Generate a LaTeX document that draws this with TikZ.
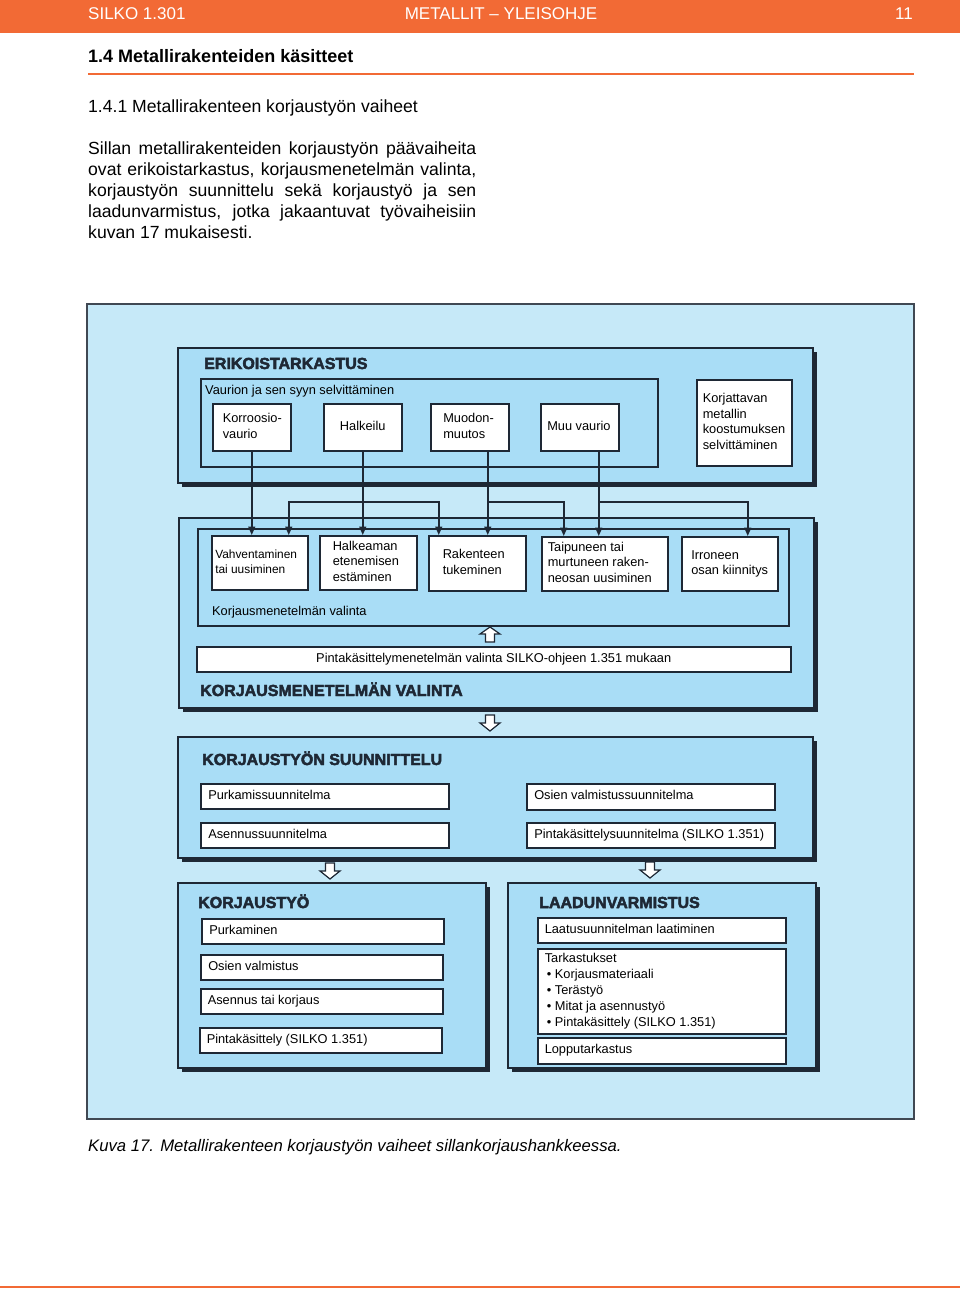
\documentclass[tikz,border=0pt]{standalone}
\usepackage{fontspec}
\setmainfont{Liberation Sans}
\newfontfamily\heavyfont{Liberation Sans}[BoldFeatures={FakeBold=3}]
\usetikzlibrary{arrows.meta,shadows}
\definecolor{orangeC}{HTML}{F26A35}
\definecolor{outerC}{HTML}{C6E9F8}
\definecolor{panelC}{HTML}{A9DDF6}
\definecolor{lineC}{HTML}{1E2835}
\newcommand\fsz[2]{\fontsize{#1pt}{#2pt}\selectfont}
% style, name, x1, y1, x2, y2
\newcommand\placerect[6]{%
  \node[#1, minimum width=\dimexpr#5pt-#3pt\relax, minimum height=\dimexpr#6pt-#4pt\relax,
        inner sep=0pt] (#2) at (#3,#4) {};}
% style, name, x1, y1, x2, y2, left text offset, text (left aligned lines)
\newcommand\placebox[8]{%
  \node[#1, minimum width=\dimexpr#5pt-#3pt\relax, minimum height=\dimexpr#6pt-#4pt\relax,
        inner xsep=0pt] (#2) at (#3,#4)
        {\makebox[\dimexpr#5pt-#3pt\relax][l]{\hspace*{#7pt}\begin{tabular}{@{}l@{}}#8\end{tabular}}};}
% style, name, x1, y1, x2, y2, text (centred)
\newcommand\placeboxc[7]{%
  \node[#1, minimum width=\dimexpr#5pt-#3pt\relax, minimum height=\dimexpr#6pt-#4pt\relax,
        inner xsep=0pt] (#2) at (#3,#4)
        {\makebox[\dimexpr#5pt-#3pt\relax][c]{\begin{tabular}{@{}c@{}}#7\end{tabular}}};}
\newcommand\hollowup[2]{\draw[hollow] (#1,#2) -- ++(10,7) -- ++(-5.5,0) -- ++(0,8) -- ++(-9,0) -- ++(0,-8) -- ++(-5.5,0) -- cycle;}
\newcommand\hollowdown[2]{\draw[hollow] ({#1-4.5},#2) -- ++(9,0) -- ++(0,8) -- ++(5.5,0) -- ++(-10,8) -- ++(-10,-8) -- ++(5.5,0) -- cycle;}
\begin{document}
\begin{tikzpicture}[x=1pt,y=-1pt,
  panel/.style={draw=lineC, fill=panelC, line width=1.5pt, anchor=north west,
     drop shadow={shadow xshift=4pt, shadow yshift=-4pt, opacity=1, fill=lineC}},
  innerframe/.style={draw=lineC, fill=panelC, line width=1.5pt, anchor=north west},
  wbox/.style={draw=lineC, fill=white, line width=1.5pt, inner ysep=0pt, anchor=north west,
     font=\fsz{12.8}{15.6}},
  conn/.style={draw=lineC, line width=1.5pt, -{Triangle[length=8.5pt,width=7pt]}},
  heading/.style={anchor=base west, inner sep=0pt, font=\heavyfont\bfseries\fsz{16}{16}, text=lineC},
  lab/.style={anchor=base west, inner sep=0pt, font=\fsz{12.8}{15.6}},
  hollow/.style={draw=lineC, fill=white, line width=1.2pt, line join=miter},
  paraline/.style={anchor=base west, inner sep=0pt, font=\fsz{17.6}{21}}
]
\useasboundingbox (0,0) rectangle (960,1289);
\fill[white] (0,0) rectangle (960,1289);

% page header
\fill[orangeC] (0,0) rectangle (960,33);
\node[anchor=base west, inner sep=0pt, text=white, font=\fsz{17}{17}] (hl) at (88,19.5) {SILKO 1.301};
\node[anchor=base, inner sep=0pt, text=white, font=\fsz{17}{17}] (hc) at (501,19.5) {METALLIT – YLEISOHJE};
\node[anchor=base east, inner sep=0pt, text=white, font=\fsz{17}{17}] (hr) at (913,19.5) {11};

\node[anchor=base west, inner sep=0pt, font=\bfseries\fsz{18}{18}] (sec) at (88,62.5) {1.4 Metallirakenteiden käsitteet};
\draw[orangeC, line width=2pt] (88,74) -- (914,74);
\node[paraline] (sub) at (88,112.5) {1.4.1 Metallirakenteen korjaustyön vaiheet};

\node[paraline] (p1) at (88,155) {\makebox[388pt][s]{Sillan metallirakenteiden korjaustyön päävaiheita}};
\node[paraline] (p2) at (88,176) {\makebox[388pt][s]{ovat erikoistarkastus, korjausmenetelmän valinta,}};
\node[paraline] (p3) at (88,197) {\makebox[388pt][s]{korjaustyön suunnittelu sekä korjaustyö ja sen}};
\node[paraline] (p4) at (88,218) {\makebox[388pt][s]{laadunvarmistus, jotka jakaantuvat työvaiheisiin}};
\node[paraline] (p5) at (88,239) {kuvan 17 mukaisesti.};

% outer frame
\node[draw=lineC!85, fill=outerC, line width=2pt, inner sep=0pt, anchor=north west,
      minimum width=827pt, minimum height=815pt] (outer) at (86,303) {};

% panels
\placerect{panel}{pA}{177}{347}{812}{482}
\placerect{panel}{pB}{178}{517}{813}{707}
\placerect{panel}{pC}{177}{736}{812}{857}
\placerect{panel}{pD}{177}{882}{485}{1067}
\placerect{panel}{pE}{507}{882}{815}{1067}

% ERIKOISTARKASTUS
\node[heading] (tA) at (204,369) {ERIKOISTARKASTUS};
\placerect{innerframe}{fA}{200}{378}{657}{466}
\node[lab] (lA) at (205,394.5) {Vaurion ja sen syyn selvittäminen};
\placebox{wbox}{korr}{212}{403}{290}{450}{10}{Korroosio-\\vaurio}
\placeboxc{wbox}{halk}{323}{403}{401}{450}{Halkeilu}
\placebox{wbox}{muod}{430}{403}{508}{450}{12.5}{Muodon-\\muutos}
\placebox{wbox}{muu}{540}{403}{618}{450}{6.5}{Muu vaurio}
\placebox{wbox}{korj}{696}{379}{791}{465}{6}{Korjattavan\\metallin\\koostumuksen\\selvittäminen}

% KORJAUSMENETELMÄN VALINTA
\placerect{innerframe}{fB}{197}{528}{788}{625}
\node[lab] (lB) at (212,615.5) {Korjausmenetelmän valinta};
\placebox{wbox, font=\fsz{11.9}{15.6}}{vahv}{211}{535}{307}{589}{3.5}{Vahventaminen\\tai uusiminen}
\placebox{wbox}{halm}{319}{535}{416}{589}{13}{Halkeaman\\etenemisen\\estäminen}
\placebox{wbox}{rak}{428}{535}{525}{590}{14}{Rakenteen\\tukeminen}
\placebox{wbox}{taip}{541}{536}{667}{590}{6}{Taipuneen tai\\murtuneen raken-\\neosan uusiminen}
\placebox{wbox}{irr}{681}{536}{777}{590}{9.5}{Irroneen\\osan kiinnitys}
\placeboxc{wbox}{pint}{196}{646}{790}{671}{Pintakäsittelymenetelmän valinta SILKO-ohjeen 1.351 mukaan}
\hollowup{490}{627}
\node[heading] (tB) at (200,696) {KORJAUSMENETELMÄN VALINTA};

% connectors
\coordinate (by) at (0,502);
\coordinate (mline) at ([xshift=18pt]muod.south);
\coordinate (uline) at ([xshift=19pt]muu.south);
\draw[conn] (korr.south) -- (korr.south |- vahv.north);
\draw[conn] (halk.south) -- (halk.south |- halm.north);
\draw[conn] (halk.south |- by) -| ([xshift=29pt]vahv.north);
\draw[conn] (halk.south |- by) -| ([xshift=-38.5pt]rak.north);
\draw[conn] (mline) -- (mline |- rak.north);
\draw[conn] (mline |- by) -| ([xshift=-41pt]taip.north);
\draw[conn] (uline) -- (uline |- taip.north);
\draw[conn] (uline |- by) -| ([xshift=18pt]irr.north);

\hollowdown{490}{715}

% KORJAUSTYÖN SUUNNITTELU
\node[heading] (tC) at (202,765) {KORJAUSTYÖN SUUNNITTELU};
\placebox{wbox}{purs}{200}{783}{448}{808}{7.5}{Purkamissuunnitelma}
\placebox{wbox}{asens}{200}{822}{448}{847}{7.5}{Asennussuunnitelma}
\placebox{wbox}{osis}{526}{783}{774}{809}{7.5}{Osien valmistussuunnitelma}
\placebox{wbox}{pints}{526}{822}{774}{847}{7.5}{Pintakäsittelysuunnitelma (SILKO 1.351)}

\hollowdown{330}{863}
\hollowdown{650}{862}

% KORJAUSTYÖ
\node[heading] (tD) at (198,908) {KORJAUSTYÖ};
\placebox{wbox}{purk}{201}{918}{443}{943}{7.5}{Purkaminen}
\placebox{wbox}{osiv}{200}{954}{442}{979}{7.5}{Osien valmistus}
\placebox{wbox}{asen}{200}{988}{442}{1013}{7}{Asennus tai korjaus}
\placebox{wbox}{pink}{199}{1027}{441}{1052}{7}{Pintakäsittely (SILKO 1.351)}

% LAADUNVARMISTUS
\node[heading] (tE) at (539,908) {LAADUNVARMISTUS};
\placebox{wbox}{laat}{537}{917}{785}{942}{7}{Laatusuunnitelman laatiminen}
\placebox{wbox, font=\fsz{12.8}{16}}{tark}{537}{948}{785}{1033}{7}{Tarkastukset\\\,• Korjausmateriaali\\\,• Terästyö\\\,• Mitat ja asennustyö\\\,• Pintakäsittely (SILKO 1.351)}
\placebox{wbox}{lopp}{537}{1037}{785}{1063}{7}{Lopputarkastus}

% caption and footer
\node[anchor=base west, inner sep=0pt, font=\itshape\fsz{16.7}{16.7}] (cap) at (88,1151) {Kuva 17. Metallirakenteen korjaustyön vaiheet sillankorjaushankkeessa.};
\draw[orangeC, line width=2pt] (0,1287) -- (960,1287);
\end{tikzpicture}
\end{document}
